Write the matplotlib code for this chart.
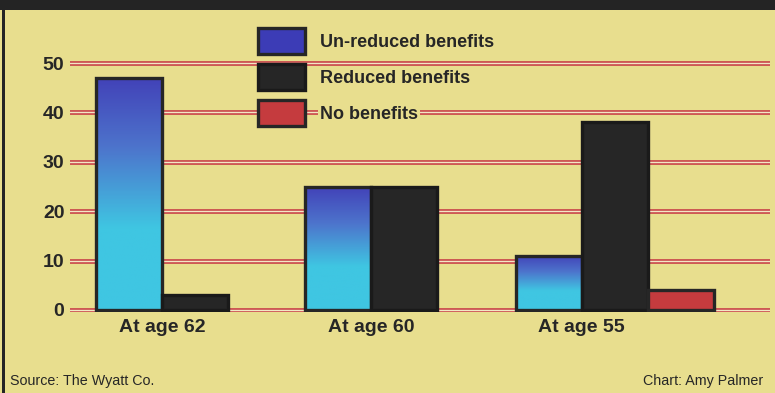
import numpy as np
import matplotlib
matplotlib.use("Agg")
import matplotlib.pyplot as plt
from matplotlib.patches import Patch, Rectangle
from matplotlib.colors import LinearSegmentedColormap

# ---- data ----
groups = ["At age 62", "At age 60", "At age 55"]
series = ["Un-reduced benefits", "Reduced benefits", "No benefits"]
unreduced = [47, 25, 11]
reduced = [3, 25, 38]
no_benefits = [0, 0, 4]
yticks = [0, 10, 20, 30, 40, 50]
source_text = "Source: The Wyatt Co."
credit_text = "Chart: Amy Palmer"

# ---- style ----
BG = "#e8de8e"
DARK = "#262626"
CYAN = "#3fc6e2"
BLUE = "#3c3cb6"
REDC = "#c53b3e"
GRID_RED = "#c9454a"
GRID_LIGHT = "#f2e8c4"
FONT = ["Liberation Sans", "DejaVu Sans"]

plt.rcParams["font.family"] = FONT

W, H = 775, 393
fig = plt.figure(figsize=(W / 100, H / 100), dpi=100, facecolor=BG)

# axes placement in pixels
left_px, right_px, bottom_px, top_px = 70, 770, 312, 20
ax = fig.add_axes([left_px / W, (H - bottom_px) / H,
                   (right_px - left_px) / W, (bottom_px - top_px) / H])
ax.set_facecolor("none")
for s in ax.spines.values():
    s.set_visible(False)

group_pos = np.array([0.0, 3.17, 6.36])
bw = 1.0

# grid lines (double red lines)
for v in yticks:
    ax.axhline(v, color=GRID_RED, lw=3.4, zorder=0.5)
    ax.axhline(v, color=GRID_LIGHT, lw=1.0, zorder=0.6)

# bars
b_un = ax.bar(group_pos, unreduced, width=bw, color="none", edgecolor=DARK,
              linewidth=2.4, zorder=3)
b_re = ax.bar(group_pos + 1, reduced, width=bw, color=DARK, edgecolor="#1a1a1a",
              linewidth=2.4, zorder=3)
b_no = ax.bar(group_pos + 2, no_benefits, width=bw, color=REDC, edgecolor=DARK,
              linewidth=2.4, zorder=3)
for p, v in zip(b_no, no_benefits):
    if v == 0:
        p.set_visible(False)

# gradient fill for un-reduced bars
cmap = LinearSegmentedColormap.from_list(
    "unred", [(0.0, CYAN), (0.35, CYAN), (0.7, "#4d74cc"), (1.0, "#4242b8")])
grad = np.linspace(0, 1, 200).reshape(-1, 1)
for p in b_un:
    x0, y0 = p.get_x(), p.get_y()
    w, h = p.get_width(), p.get_height()
    im = ax.imshow(grad, extent=(x0, x0 + w, y0, y0 + h), origin="lower",
                   cmap=cmap, aspect="auto", zorder=2.5, interpolation="bilinear")
    im.set_clip_path(p)

ax.set_xlim((left_px - 129) / 66, (right_px - 129) / 66)
ax.set_ylim((310 - bottom_px) / 4.94, (310 - top_px) / 4.94)

ax.set_yticks(yticks)
ax.set_yticklabels([str(v) for v in yticks])
ax.set_xticks(group_pos + 0.5)
ax.set_xticklabels(groups)
ax.tick_params(axis="y", length=0, pad=4, labelsize=14, labelcolor=DARK)
ax.tick_params(axis="x", length=0, pad=5, labelsize=14, labelcolor=DARK)
for lab in ax.get_xticklabels() + ax.get_yticklabels():
    lab.set_fontweight("bold")

# legend
handles = [
    Patch(facecolor=BLUE, edgecolor=DARK, linewidth=2.4),
    Patch(facecolor=DARK, edgecolor="#1a1a1a", linewidth=2.4),
    Patch(facecolor=REDC, edgecolor=DARK, linewidth=2.4),
]
leg = ax.legend(handles, series, loc="upper left",
                bbox_to_anchor=(258 / W, (H - 28) / H),
                bbox_transform=fig.transFigure, frameon=False,
                prop={"family": FONT, "weight": "bold", "size": 13},
                handlelength=2.6, handleheight=1.85, labelspacing=0.55,
                handletextpad=0.85, borderpad=0, borderaxespad=0)
leg.set_zorder(5)
for t in leg.get_texts():
    t.set_color(DARK)
    t.set_bbox(dict(facecolor=BG, edgecolor="none", pad=1.5))

# frame decorations
fig.patches.append(Rectangle((0, (H - 10) / H), 1, 10 / H, transform=fig.transFigure,
                             facecolor="#242424", edgecolor="none", zorder=10))
fig.patches.append(Rectangle((2 / W, 0), 3 / W, 1, transform=fig.transFigure,
                             facecolor="#242424", edgecolor="none", zorder=10))

fig.text(10 / W, (H - 381) / H, source_text, fontsize=10.3, color=DARK,
         ha="left", va="center")
fig.text(763 / W, (H - 381) / H, credit_text, fontsize=10.3, color=DARK,
         ha="right", va="center")

fig.savefig("out.png", dpi=100, facecolor=BG)
